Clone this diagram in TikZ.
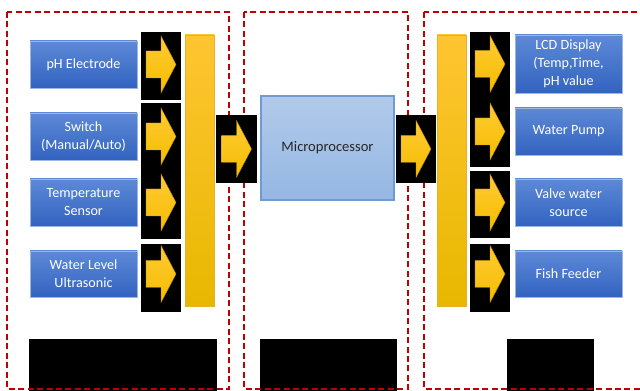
\documentclass[tikz,border=0pt]{standalone}
\usepackage{fontspec}
\setmainfont{Carlito}
\definecolor{dashred}{HTML}{C00000}
\definecolor{bluetop}{HTML}{5D89D6}
\definecolor{bluebot}{HTML}{3263C0}
\definecolor{blueedge}{HTML}{9DB5E0}
\definecolor{mptop}{HTML}{B1CAEA}
\definecolor{mpbot}{HTML}{95B7E3}
\definecolor{mpedge}{HTML}{6F9BD3}
\definecolor{yeltop}{HTML}{FFCB35}
\definecolor{yelbot}{HTML}{F5BC00}
\definecolor{yeledge}{HTML}{B88A00}
\definecolor{bartop}{HTML}{FFC532}
\definecolor{barbot}{HTML}{E7B800}
\begin{document}
\begin{tikzpicture}[x=0.75pt,y=-0.75pt,
  bluebox/.style={rectangle, draw=blueedge, line width=0.6pt, top color=bluetop, bottom color=bluebot,
    text=white, align=center, font=\fontsize{10.6}{13.5}\selectfont, inner sep=1pt,
    minimum width=107*0.75pt},
  mpbox/.style={rectangle, draw=mpedge, line width=0.8pt, top color=mptop, bottom color=mpbot,
    text=black!85, font=\fontsize{10.9}{13}\selectfont, minimum width=133*0.75pt, minimum height=104*0.75pt},
  blackbox/.style={rectangle, fill=black, inner sep=0pt, minimum width=40*0.75pt, minimum height=68*0.75pt},
  bar/.style={rectangle, draw=bartop!90!black, line width=0.3pt, top color=bartop, bottom color=barbot,
    inner sep=0pt, minimum width=29*0.75pt, minimum height=271*0.75pt},
  region/.style={draw=dashred, line width=1.1pt, dash pattern=on 4.5pt off 2.6pt},
  barrow/.pic={\draw[yeledge, line width=0.3pt, top color=yeltop, bottom color=yelbot]
    (-15,-13.5) -- (0,-13.5) -- (0,-28.5) -- (15,0) -- (0,28.5) -- (0,13.5) -- (-15,13.5) -- cycle;}
]
\useasboundingbox (0,0) rectangle (640,391);

% bottom black blocks
\node[fill=black, inner sep=0pt, minimum width=188*0.75pt, minimum height=52*0.75pt] (bl) at (123,365) {};
\node[fill=black, inner sep=0pt, minimum width=137*0.75pt, minimum height=52*0.75pt] (bm) at (328.5,365) {};
\node[fill=black, inner sep=0pt, minimum width=87*0.75pt, minimum height=52*0.75pt] (br) at (550.5,365) {};

% dashed regions
\draw[region] (7,12) rectangle (229,389);
\draw[region] (244,12) rectangle (408,389);
\draw[region] (424,12) rectangle (646,389);

% input blocks
\node[bluebox, minimum height=47*0.75pt] (ph) at (83.5,64.5) {pH Electrode};
\node[bluebox, minimum height=47*0.75pt] (sw) at (83.5,136.5) {Switch\\(Manual/Auto)};
\node[bluebox, minimum height=47*0.75pt] (ts) at (83.5,202.5) {Temperature\\Sensor};
\node[bluebox, minimum height=46*0.75pt] (wl) at (83.5,274) {Water Level\\Ultrasonic};

% input arrow boxes
\node[blackbox] (a1) at (161,66) {};
\node[blackbox] (a2) at (161,137) {};
\node[blackbox] (a3) at (161,205) {};
\node[blackbox] (a4) at (161,278) {};
\pic at (a1.center |- ph.center) {barrow};
\pic at (a2.center |- sw.center) {barrow};
\pic at (a3.center |- ts.center) {barrow};
\pic at (a4.center |- wl.center) {barrow};

% bars
\node[bar] (barL) at (199.5,170.5) {};
\node[bar] (barR) at (451.5,170.5) {};

% middle arrows
\node[blackbox, minimum width=41*0.75pt] (m1) at (236.5,149) {};
\node[blackbox] (m2) at (416,149) {};
\pic at (m1.center) {barrow};
\pic at (m2.center) {barrow};

% microprocessor
\node[mpbox] (mp) at (327.5,148) {Microprocessor};

% output blocks
\node[bluebox, minimum height=58*0.75pt] (lcd) at (568.5,64) {LCD Display\\(Temp,Time,\\pH value};
\node[bluebox, minimum height=47*0.75pt] (wp) at (568.5,131.5) {Water Pump};
\node[bluebox, minimum height=47*0.75pt] (vw) at (568.5,202.5) {Valve water\\source};
\node[bluebox, minimum height=46*0.75pt] (ff) at (568.5,274) {Fish Feeder};

% output arrow boxes
\node[blackbox] (b1) at (490,66) {};
\node[blackbox, minimum height=67*0.75pt] (b2) at (490,133.5) {};
\node[blackbox, minimum height=67*0.75pt] (b3) at (490,204.5) {};
\node[blackbox] (b4) at (490,278) {};
\pic at (b1.center |- lcd.center) {barrow};
\pic at (b2.center |- wp.center) {barrow};
\pic at (b3.center |- vw.center) {barrow};
\pic at (b4.center |- ff.center) {barrow};
\end{tikzpicture}
\end{document}
